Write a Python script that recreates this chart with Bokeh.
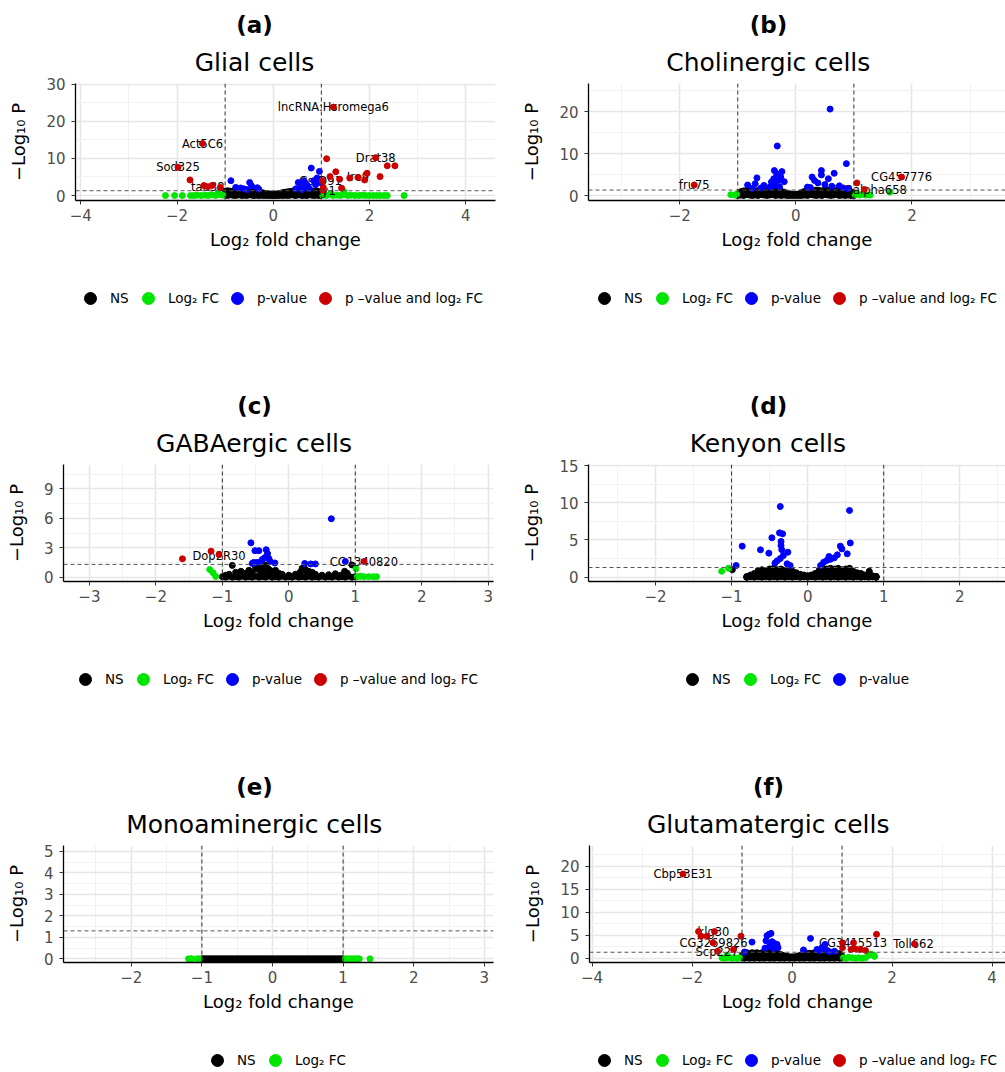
from bokeh.plotting import figure
from bokeh.layouts import column, row
from bokeh.models import FixedTicker, Span, Legend, LegendItem, Title, Range1d
from bokeh.embed import file_html
from bokeh.resources import INLINE
from bokeh.core.properties import value

# ---------------------------------------------------------------- data
ns_grid = [-1.0, -0.95, -0.9, -0.85, -0.8, -0.75, -0.7, -0.65, -0.6, -0.55, -0.5, -0.45, -0.4, -0.35,
           -0.3, -0.25, -0.2, -0.15, -0.1, -0.05, 0.0, 0.05, 0.1, 0.15, 0.2, 0.25, 0.3, 0.35, 0.4,
           0.45, 0.5, 0.55, 0.6, 0.65, 0.7, 0.75, 0.8, 0.85, 0.9, 0.95, 1.0]
ns_grid_half = [-0.975, -0.925, -0.875, -0.825, -0.775, -0.725, -0.675, -0.625, -0.575, -0.525,
                -0.475, -0.425, -0.375, -0.325, -0.275, -0.225, -0.175, -0.125, -0.075, -0.025,
                0.025, 0.075, 0.125, 0.175, 0.225, 0.275, 0.325, 0.375, 0.425, 0.475, 0.525, 0.575,
                0.625, 0.675, 0.725, 0.775, 0.825, 0.875, 0.925, 0.975]
ns_base_y = [0.05, 0.0, 0.1, 0.0, 0.05, 0.0, 0.1, 0.0, 0.05, 0.0, 0.1, 0.0, 0.05, 0.0, 0.1, 0.0, 0.05,
             0.0, 0.1, 0.0, 0.05, 0.0, 0.1, 0.0, 0.05, 0.0, 0.1, 0.0, 0.05, 0.0, 0.1, 0.0, 0.05, 0.0,
             0.1, 0.0, 0.05, 0.0, 0.1, 0.0, 0.05]

# (a) Glial cells
ns_a_top = [1.2, 1.3, 1.2, 1.1, 1.3, 1.2, 1.1, 1.2, 1.0, 1.2, 1.1, 1.0, 1.2, 1.0, 0.9, 0.8, 0.7, 0.6, 0.5,
            0.4, 0.35, 0.4, 0.5, 0.6, 0.8, 0.9, 1.0, 1.1, 1.2, 1.3, 1.2, 1.3, 1.1, 1.2, 1.3, 1.1, 1.2,
            1.0, 1.2, 1.0, 0.8]
ns_a_low = [0.1, 0.0, 0.2, 0.1, 0.0, 0.1, 0.2, 0.0, 0.1, 0.0, 0.2, 0.1, 0.0, 0.1, 0.0, 0.1, 0.0, 0.05,
            0.0, 0.0, 0.0, 0.0, 0.0, 0.05, 0.0, 0.1, 0.0, 0.1, 0.2, 0.0, 0.1, 0.2, 0.0, 0.1, 0.0, 0.2,
            0.1, 0.0, 0.1, 0.0, 0.1]
fc_a_x = [-2.24, -2.05, -1.89, -1.72, -1.65, -1.58, -1.5, -1.42, -1.35, -1.28, -1.2, -1.12, -1.05,
          -1.15, 1.03, 1.1, 1.18, 1.25, 1.33, 1.4, 1.48, 1.55, 1.62, 1.7, 1.78, 1.85, 1.92, 2.0, 2.08,
          2.15, 2.22, 2.3, 2.37, 2.72, 1.47, 1.2]
fc_a_y = [0.0, 0.0, 0.0, 0.0, 0.0, 0.1, 0.0, 0.1, 0.0, 0.2, 0.0, 0.3, 0.1, 0.7, 0.1, 0.0, 0.2, 0.0, 0.1,
          0.0, 0.3, 0.0, 0.1, 0.0, 0.0, 0.1, 0.0, 0.0, 0.0, 0.0, 0.0, 0.0, 0.0, 0.0, 1.1, 0.6]
pv_a_x = [-0.88, -0.78, -0.68, -0.61, -0.49, -0.45, -0.33, -0.30, -0.55, 0.79, 0.96, 0.52, 0.64, 0.71,
          0.84, 0.91, 0.57, 0.75, 0.47, 0.68, 0.88, 0.60, 0.98]
pv_a_y = [4.0, 2.2, 2.05, 1.8, 3.5, 2.6, 2.1, 1.7, 1.6, 7.4, 6.5, 3.5, 4.0, 2.7, 4.0, 4.7, 2.2, 1.9, 1.8,
          3.2, 2.9, 1.6, 3.5]
both_a_x = [1.25, -1.47, -1.98, -1.73, -1.44, -1.36, -1.27, -1.10, 1.11, 1.30, 1.18, 1.04, 1.42, 1.38,
            1.59, 1.76, 1.90, 1.95, 2.13, 2.22, 2.37, 2.53, 1.02, 1.03]
both_a_y = [23.8, 14.0, 7.6, 4.2, 2.7, 2.4, 2.7, 2.2, 9.9, 6.4, 5.1, 2.2, 2.0, 4.4, 4.7, 4.9, 4.2, 6.0,
            10.2, 5.1, 8.0, 8.0, 4.0, 1.45]
lab_a_x = [1.25, -1.47, -1.98, -1.36, 2.13, 1.76, 0.98, 0.97]
lab_a_y = [23.8, 14.0, 7.6, 2.4, 10.2, 4.9, 4.0, 1.2]
lab_a_t = ["lncRNA:Hsromega6", "Act5C6", "Sod325", "tau38", "Drat38", "Ire9", "GstD91", "Fray1"]

# (b) Cholinergic cells
ns_b_top = [0.3, 0.9, 1.1, 1.2, 1.0, 1.2, 1.1, 1.2, 1.0, 1.2, 1.1, 1.2, 1.3, 1.2, 1.1, 1.0, 0.8, 0.5,
            0.4, 0.3, 0.3, 0.4, 0.7, 1.0, 1.1, 1.2, 1.1, 1.3, 1.2, 1.1, 1.3, 1.2, 1.1, 1.2, 1.3, 1.1,
            1.2, 1.0, 1.1, 0.9, 0.6]
ns_b_low = [0.0, 0.1, 0.0, 0.2, 0.1, 0.0, 0.1, 0.0, 0.2, 0.1, 0.0, 0.1, 0.2, 0.0, 0.1, 0.0, 0.1, 0.0,
            0.0, 0.0, 0.0, 0.0, 0.0, 0.1, 0.0, 0.2, 0.1, 0.0, 0.1, 0.0, 0.2, 0.1, 0.0, 0.1, 0.2, 0.0,
            0.1, 0.0, 0.1, 0.0, 0.0]
fc_b_x = [-1.12, -1.05, -1.02, 1.02, 1.06, 1.1, 1.15, 1.2, 1.28, 1.62]
fc_b_y = [0.2, 0.1, 0.3, 0.2, 0.4, 0.1, 0.3, 0.1, 0.1, 0.8]
pv_b_x = [0.59, -0.32, 0.87, -0.37, -0.24, -0.33, -0.67, 0.44, 0.44, 0.66, 0.28, 0.56, -0.83, -0.70,
          -0.42, -0.30, -0.20, -0.36, -0.28, -0.45, -0.55, -0.60, 0.32, 0.38, 0.50, 0.62, 0.75, 0.82,
          0.90, 0.25, -0.38, -0.26, -0.75, 0.20]
pv_b_y = [20.6, 11.8, 7.6, 5.95, 5.7, 5.2, 4.2, 5.95, 4.9, 5.3, 4.4, 4.0, 2.5, 2.8, 3.2, 3.6, 3.3, 2.4,
          2.1, 2.0, 2.4, 1.8, 3.6, 3.0, 2.6, 2.2, 2.3, 1.8, 1.6, 1.9, 4.0, 4.4, 1.7, 2.0]
both_b_x = [-1.75, 1.05, 1.82, 1.18]
both_b_y = [2.5, 3.0, 4.4, 1.45]
lab_b_x = [-1.75, 1.82, 1.12]
lab_b_y = [2.5, 4.4, 1.4]
lab_b_t = ["fru75", "CG457776", "nAChRalpha658"]

# (c) GABAergic cells
ns_c_bx = [-0.95, -0.9, -0.85, -0.8, -0.75, -0.72, -0.68, -0.65, -0.6, -0.57, -0.55, -0.5, -0.47,
           -0.44, -0.42, -0.4, -0.37, -0.34, -0.32, -0.3, -0.27, -0.25, -0.22, -0.2, -0.15, -0.1, 0.0,
           0.1, 0.15, 0.17, 0.2, 0.22, 0.23, 0.26, 0.28, 0.3, 0.35, 0.4, 0.5, 0.6, 0.7, 0.78, 0.84,
           0.88, 0.95]
ns_c_by = [0.2, 0.3, 1.2, 0.5, 0.3, 0.6, 0.4, 0.4, 0.7, 0.5, 0.5, 1.0, 0.8, 0.9, 0.4, 0.6, 1.1, 1.25,
           0.5, 0.8, 0.4, 0.6, 0.3, 0.7, 0.4, 0.3, 0.2, 0.3, 0.2, 0.5, 0.9, 0.7, 1.0, 0.7, 0.3, 0.6,
           0.5, 0.3, 0.2, 0.25, 0.35, 0.2, 0.6, 0.4, 1.25]
fc_c_x = [-1.19, -1.14, -1.10, 1.01, 1.03, 1.08, 1.13, 1.2, 1.27, 1.32]
fc_c_y = [0.78, 0.45, 0.07, 0.85, 0.05, 0.1, 0.05, 0.05, 0.05, 0.05]
pv_c_x = [0.64, -0.57, -0.51, -0.45, -0.34, -0.32, -0.36, -0.40, -0.30, -0.28, -0.53, -0.48, -0.21,
          0.24, 0.33, 0.40, 0.85, -0.42, -0.55]
pv_c_y = [5.95, 3.5, 2.7, 2.7, 2.8, 2.4, 2.0, 1.8, 1.9, 1.6, 1.5, 1.5, 1.45, 1.4, 1.35, 1.35, 1.6, 1.6,
          1.4]
both_c_x = [-1.60, -1.17, -1.05, 1.13]
both_c_y = [1.87, 2.65, 2.3, 1.6]
lab_c_x = [-1.05, 1.13]
lab_c_y = [2.2, 1.55]
lab_c_t = ["Dop2R30", "CG1340820"]

# (d) Kenyon cells
ns_d_x = [-0.8, -0.75, -0.7, -0.65, -0.6, -0.55, -0.5, -0.45, -0.4, -0.35, -0.3, -0.25, -0.2, -0.15,
          -0.1, -0.05, 0.0, 0.05, 0.1, 0.15, 0.2, 0.25, 0.3, 0.35, 0.4, 0.45, 0.5, 0.55, 0.6, 0.65,
          0.7, 0.75, 0.8, 0.85, 0.9]
ns_d_top = [0.1, 0.3, 0.5, 0.9, 1.0, 0.8, 1.1, 1.2, 1.0, 1.1, 0.9, 1.1, 0.8, 0.6, 0.4, 0.3, 0.2, 0.3,
            0.5, 0.9, 1.2, 1.1, 1.2, 1.1, 1.2, 1.0, 1.1, 1.2, 0.8, 0.6, 0.5, 0.3, 0.4, 0.2, 0.1]
ns_d_mid = [0.0, 0.1, 0.2, 0.4, 0.5, 0.4, 0.5, 0.6, 0.5, 0.6, 0.4, 0.5, 0.4, 0.3, 0.2, 0.1, 0.1, 0.1,
            0.2, 0.4, 0.6, 0.5, 0.6, 0.5, 0.6, 0.5, 0.5, 0.6, 0.4, 0.3, 0.2, 0.1, 0.2, 0.1, 0.0]
ns_d_low = [0.0, 0.05, 0.0, 0.05, 0.0, 0.05, 0.0, 0.05, 0.0, 0.05, 0.0, 0.05, 0.0, 0.05, 0.0, 0.05,
            0.0, 0.05, 0.0, 0.05, 0.0, 0.05, 0.0, 0.05, 0.0, 0.05, 0.0, 0.05, 0.0, 0.05, 0.0, 0.05,
            0.0, 0.05, 0.0]
ns_d_ex_x = [-0.99, 0.81, 0.9]
ns_d_ex_y = [1.0, 0.8, 0.1]
fc_d_x = [-1.13, -1.04]
fc_d_y = [0.8, 1.2]
pv_d_x = [-0.36, 0.55, -0.37, -0.33, -0.47, -0.86, -0.62, -0.51, -0.35, -0.35, -0.32, -0.26, -0.40,
          -0.36, -0.43, -0.27, -0.23, -0.94, 0.56, 0.52, 0.43, 0.45, 0.39, 0.28, 0.21, 0.25, 0.17,
          -0.34, 0.30, 0.35]
pv_d_y = [9.5, 8.97, 5.96, 5.83, 5.3, 4.17, 3.68, 3.23, 4.8, 4.26, 2.9, 3.36, 2.2, 2.5, 1.9, 1.8, 1.57,
          1.57, 4.6, 3.14, 4.17, 3.8, 3.0, 2.78, 2.0, 2.24, 1.57, 3.7, 2.4, 2.6]

# (e) Monoaminergic cells
ns_e_y = [0.0, 0.0, 0.0, 0.0, 0.0, 0.0, 0.0, 0.0, 0.0, 0.0, 0.0, 0.0, 0.0, 0.0, 0.0, 0.0, 0.0, 0.0,
          0.0, 0.0, 0.0, 0.0, 0.0, 0.0, 0.0, 0.0, 0.0, 0.0, 0.0, 0.0, 0.0, 0.0, 0.0, 0.0, 0.0, 0.0,
          0.0, 0.0, 0.0, 0.0, 0.0]
ns_e_y_half = [0.0, 0.0, 0.0, 0.0, 0.0, 0.0, 0.0, 0.0, 0.0, 0.0, 0.0, 0.0, 0.0, 0.0, 0.0, 0.0, 0.0,
               0.0, 0.0, 0.0, 0.0, 0.0, 0.0, 0.0, 0.0, 0.0, 0.0, 0.0, 0.0, 0.0, 0.0, 0.0, 0.0, 0.0,
               0.0, 0.0, 0.0, 0.0, 0.0, 0.0]
fc_e_x = [-1.19, -1.16, -1.14, -1.07, -1.04, 1.03, 1.06, 1.09, 1.12, 1.15, 1.18, 1.21, 1.23, 1.38]
fc_e_y = [0.0, 0.0, 0.0, 0.0, 0.0, 0.0, 0.0, 0.0, 0.0, 0.0, 0.0, 0.0, 0.0, 0.0]

# (f) Glutamatergic cells
ns_f_top = [0.6, 1.1, 1.2, 1.0, 1.2, 1.1, 1.2, 1.0, 1.2, 1.1, 1.2, 1.3, 1.2, 1.1, 1.0, 0.9, 0.7, 0.5,
            0.4, 0.3, 0.3, 0.3, 0.4, 0.6, 0.8, 0.9, 1.0, 1.1, 1.0, 1.2, 1.1, 1.0, 1.2, 1.1, 1.0, 1.2,
            1.1, 1.0, 0.9, 1.0, 0.5]
fc_f_x = [-1.4, -1.35, -1.3, -1.25, -1.2, -1.15, -1.1, -1.05, -1.3, 1.03, 1.08, 1.13, 1.2, 1.27, 1.33,
          1.4, 1.47, 1.53, 1.57, 1.63, 1.65]
fc_f_y = [0.1, 0.0, 0.1, 0.2, 0.0, 0.1, 0.0, 0.1, 0.6, 0.1, 0.0, 0.2, 0.1, 0.0, 0.1, 0.0, 0.1, 0.6, 0.9,
          0.7, 0.4]
pv_f_x = [-0.80, -0.50, -0.46, -0.42, -0.52, -0.40, -0.35, -0.30, -0.54, -0.37, -0.28, -0.95, 0.37,
          0.23, 0.50, 0.60, 0.66, 0.70, 0.75, 0.85, -0.45, -0.33, 0.55]
pv_f_y = [3.5, 4.9, 5.2, 5.4, 3.8, 3.6, 3.2, 3.0, 2.2, 2.1, 2.3, 1.35, 4.3, 1.8, 1.9, 2.3, 3.0, 1.7, 1.4,
          1.5, 2.6, 2.5, 1.6]
both_f_x = [-2.18, -1.87, -1.82, -1.70, -1.55, -1.58, -1.49, -1.17, -1.02, 1.01, 1.01, 1.23, 1.18,
            1.27, 1.37, 1.47, 1.69, 2.45]
both_f_y = [18.3, 5.8, 4.8, 4.8, 5.8, 3.35, 1.52, 1.9, 4.8, 3.35, 2.3, 3.35, 1.9, 2.0, 1.9, 1.7, 5.2, 3.1]
lab_f_x = [-2.18, -1.57, -1.57, -1.50, 1.22, 2.43]
lab_f_y = [18.3, 5.65, 3.35, 1.3, 3.35, 3.1]
lab_f_t = ["Cbp53E31", "klg30", "CG3269826", "Scp227", "CG3415513", "Toll662"]

legend_labels = ["NS", "Log\u2082 FC", "p-value", "p \u2013value and log\u2082 FC"]

# ---------------------------------------------------------------- style
FONT = "DejaVu Sans"
COLORS = ["#000000", "#00E600", "#0000FF", "#CD0000"]
FRAME_TOP, FRAME_H = 83, 117
PLOT_H = 270

REG = {'G': .775, 'l': .278, 'i': .278, 'a': .613, ' ': .318, 'c': .550, 'e': .615, 's': .521,
       'C': .698, 'h': .634, 'o': .612, 'n': .634, 'r': .411, 'g': .635, 'A': .684, 'B': .686,
       'K': .656, 'y': .592, 'M': .863, 'm': .974, 'u': .634, 't': .392}
BOLD = {'(': .457, ')': .457, 'a': .675, 'b': .716, 'c': .593, 'd': .716, 'e': .678, 'f': .435}


def tw(s, size, table):
    return sum(table.get(ch, 0.6) for ch in s) * size


def make_panel(letter, name, W, left, right, xr, yr, xt, xm, yt, ym,
               ns_x, ns_y, fc_x, fc_y, pv_x, pv_y, bo_x, bo_y, lx, ly, lt, center):
    p = figure(width=W, height=PLOT_H, x_range=Range1d(*xr), y_range=Range1d(*yr),
               output_backend="svg", toolbar_location=None, title=None,
               min_border_left=left, min_border_right=right, min_border_top=FRAME_TOP,
               min_border_bottom=PLOT_H - FRAME_TOP - FRAME_H)
    p.outline_line_color = None
    p.background_fill_color = "white"
    p.border_fill_color = "white"

    p.xaxis.ticker = FixedTicker(ticks=xt, minor_ticks=xm)
    p.yaxis.ticker = FixedTicker(ticks=yt, minor_ticks=ym)
    p.xaxis.axis_label = "Log\u2082 fold change"
    p.yaxis.axis_label = "\u2212Log\u2081\u2080 P"
    for ax in (p.xaxis[0], p.yaxis[0]):
        ax.axis_line_color = "black"
        ax.axis_line_width = 1.3
        ax.major_tick_line_color = "#333333"
        ax.major_tick_out = 4
        ax.major_tick_in = 0
        ax.minor_tick_line_color = None
        ax.major_label_text_font = FONT
        ax.major_label_text_font_size = "15px"
        ax.major_label_text_color = "#4D4D4D"
        ax.axis_label_text_font = FONT
        ax.axis_label_text_font_size = "18px"
        ax.axis_label_text_font_style = "normal"
        ax.axis_label_text_color = "black"
    p.xaxis.major_label_standoff = 4
    p.xaxis.axis_label_standoff = 5
    p.yaxis.major_label_standoff = 6
    p.yaxis.axis_label_standoff = 14
    for g in (p.xgrid[0], p.ygrid[0]):
        g.grid_line_color = "#E6E6E6"
        g.grid_line_width = 1.6
        g.minor_grid_line_color = "#F0F0F0"
        g.minor_grid_line_width = 0.9

    kw = dict(size=6, marker="circle")
    p.scatter(ns_x, ns_y, fill_color=COLORS[0], line_color=COLORS[0], **kw)
    p.scatter(fc_x, fc_y, fill_color=COLORS[1], line_color=COLORS[1], **kw)
    if lt:
        p.text(x=lx, y=ly, text=lt, text_font=value(FONT), text_font_size="11.5px",
               text_align="center", text_baseline="middle", text_color="black")
    p.scatter(pv_x, pv_y, fill_color=COLORS[2], line_color=COLORS[2], **kw)
    p.scatter(bo_x, bo_y, fill_color=COLORS[3], line_color=COLORS[3], **kw)

    for loc in (-1, 1):
        p.add_layout(Span(location=loc, dimension="height", line_dash="4 3",
                          line_color="#333333", line_width=1))
    p.add_layout(Span(location=1.30103, dimension="width", line_dash="4 3",
                      line_color="#555555", line_width=1))

    sub = Title(text=name, align="left", text_font=FONT, text_font_size="25px",
                text_font_style="normal", text_color="black", standoff=13,
                offset=center - left - tw(name, 25, REG) / 2)
    p.add_layout(sub, "above")
    let = "(%s)" % letter
    head = Title(text=let, align="left", text_font=FONT, text_font_size="23px",
                 text_font_style="bold", text_color="black", standoff=3,
                 offset=center - left - tw(let, 23, BOLD) / 2)
    p.add_layout(head, "above")
    return p


def make_legend(W, H, left, leg_x, n_leg):
    lf = figure(width=W, height=H, x_range=Range1d(0, 1), y_range=Range1d(0, 1),
                x_axis_type=None, y_axis_type=None, output_backend="svg",
                toolbar_location=None, title=None, min_border_left=0, min_border_right=0,
                min_border_top=0, min_border_bottom=0)
    lf.outline_line_color = None
    lf.background_fill_color = "white"
    lf.border_fill_color = "white"
    rends = [lf.scatter([-10], [-10], size=6, fill_color=c, line_color=c) for c in COLORS[:n_leg]]
    items = [LegendItem(label=legend_labels[i], renderers=[rends[i]]) for i in range(n_leg)]
    # legend centre 28 px below the top of this strip, 30 px tall
    leg = Legend(items=items, location=(left + leg_x, H - 43), orientation="horizontal",
                 glyph_width=30, glyph_height=30, label_standoff=5, spacing=3,
                 padding=0, margin=0, border_line_color=None, background_fill_alpha=0,
                 label_text_font=FONT, label_text_font_size="13.5px", label_text_color="black")
    lf.add_layout(leg)
    return lf


pa = make_panel("a", "Glial cells", 502, 75, 7, (-4.11, 4.62), (-1.33, 30.15),
                [-4, -2, 0, 2, 4], [-3, -1, 1, 3], [0, 10, 20, 30], [5, 15, 25],
                ns_grid + ns_grid, ns_a_top + ns_a_low, fc_a_x, fc_a_y, pv_a_x, pv_a_y,
                both_a_x, both_a_y, lab_a_x, lab_a_y, lab_a_t, 254)
pb = make_panel("b", "Cholinergic cells", 503, 86, 0, (-3.57, 3.61), (-1.19, 26.7),
                [-2, 0, 2], [-3, -1, 1, 3], [0, 10, 20], [5, 15, 25],
                ns_grid + ns_grid, ns_b_top + ns_b_low, fc_b_x, fc_b_y, pv_b_x, pv_b_y,
                both_b_x, both_b_y, lab_b_x, lab_b_y, lab_b_t, 266)
pc = make_panel("c", "GABAergic cells", 502, 63, 9, (-3.39, 3.08), (-0.44, 11.48),
                [-3, -2, -1, 0, 1, 2, 3], [-2.5, -1.5, -0.5, 0.5, 1.5, 2.5],
                [0, 3, 6, 9], [1.5, 4.5, 7.5, 10.5],
                ns_grid + ns_c_bx, ns_base_y + ns_c_by, fc_c_x, fc_c_y, pv_c_x, pv_c_y,
                both_c_x, both_c_y, lab_c_x, lab_c_y, lab_c_t, 254)
pd = make_panel("d", "Kenyon cells", 503, 86, 0, (-2.88, 2.6), (-0.58, 15.15),
                [-2, -1, 0, 1, 2], [-2.5, -1.5, -0.5, 0.5, 1.5, 2.5],
                [0, 5, 10, 15], [2.5, 7.5, 12.5],
                ns_d_x + ns_d_x + ns_d_x + ns_d_ex_x, ns_d_top + ns_d_mid + ns_d_low + ns_d_ex_y,
                fc_d_x, fc_d_y, pv_d_x, pv_d_y, [], [], [], [], [], 266)
pe = make_panel("e", "Monoaminergic cells", 502, 63, 9, (-2.96, 3.13), (-0.17, 5.27),
                [-2, -1, 0, 1, 2, 3], [-2.5, -1.5, -0.5, 0.5, 1.5, 2.5],
                [0, 1, 2, 3, 4, 5], [0.5, 1.5, 2.5, 3.5, 4.5],
                ns_grid + ns_grid_half, ns_e_y + ns_e_y_half, fc_e_x, fc_e_y, [], [], [], [],
                [], [], [], 254)
pf = make_panel("f", "Glutamatergic cells", 503, 87, 0, (-4.05, 4.27), (-0.93, 24.5),
                [-4, -2, 0, 2, 4], [-3, -1, 1, 3], [0, 5, 10, 15, 20], [2.5, 7.5, 12.5, 17.5, 22.5],
                ns_grid + ns_grid, ns_f_top + ns_base_y, fc_f_x, fc_f_y, pv_f_x, pv_f_y,
                both_f_x, both_f_y, lab_f_x, lab_f_y, lab_f_t, 266)

la = make_legend(502, 111, 75, 0, 4)
lb = make_legend(503, 111, 86, 1, 4)
lc = make_legend(502, 111, 63, 7, 4)
ld = make_legend(503, 111, 86, 89, 3)
le = make_legend(502, 40, 63, 139, 2)
lf_ = make_legend(503, 40, 87, 0, 4)

layout = column(row(pa, pb), row(la, lb), row(pc, pd), row(lc, ld), row(pe, pf), row(le, lf_))
open("out.html", "w").write(file_html(layout, INLINE))
